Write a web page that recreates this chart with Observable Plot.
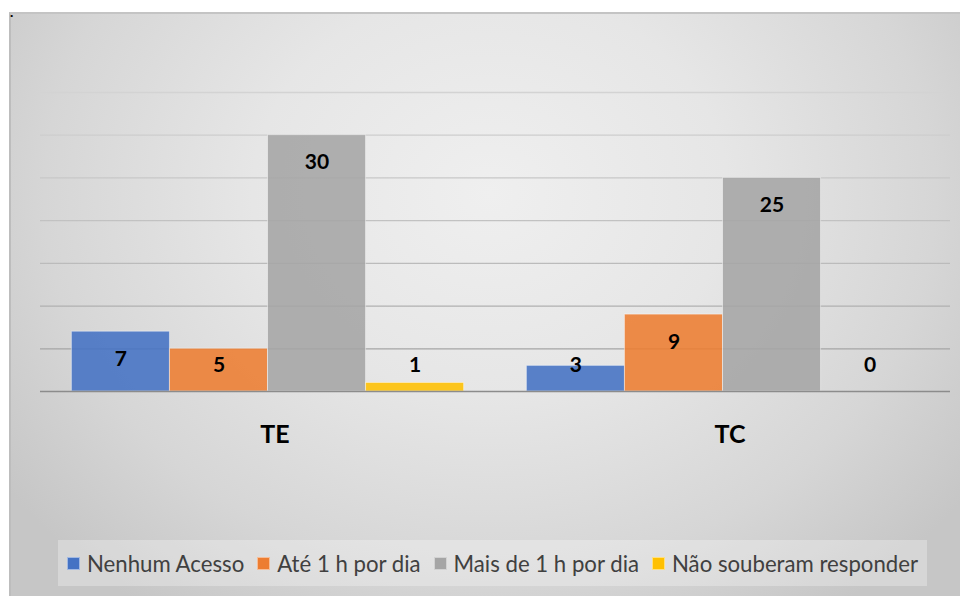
<!DOCTYPE html>
<html>
<head>
<meta charset="utf-8">
<script src="https://cdn.jsdelivr.net/npm/d3@7"></script>
<script src="https://cdn.jsdelivr.net/npm/@observablehq/plot@0.6"></script>
<style>
  html, body { margin: 0; padding: 0; background: #ffffff; width: 960px; height: 596px; overflow: hidden; }
  body { position: relative; font-family: Lato, "Noto Sans", sans-serif; }
  #bg {
    position: absolute; left: 9px; top: 12px; width: 960px; height: 600px;
    border-top: 2px solid #c4c4c4; border-left: 2px solid #bdbdbd; box-sizing: border-box;
    background: radial-gradient(ellipse 62% 85% at 50% 30%, #efefef 0%, #e6e6e6 40%, #d6d6d6 75%, #c6c6c6 100%);
  }
  #dot { position: absolute; left: 10px; top: 5px; font-size: 14px; line-height: 14px; font-weight: bold; color: #000; }
  #chart { position: absolute; left: 0; top: 0; }
  #legend {
    position: absolute; left: 58px; top: 540px; width: 869px; height: 46px;
    background: rgba(255,255,255,0.28);
    display: flex; align-items: center; justify-content: center;
    font-size: 22.2px; color: #404040;
  }
  .item { display: flex; align-items: center; margin: 0 6.5px; white-space: nowrap; }
  .sw { width: 13px; height: 13px; margin-right: 7px; box-sizing: border-box; border: 1px solid rgba(255,255,255,0.5); }
</style>
</head>
<body>
<div id="bg"></div>
<div id="dot">.</div>
<div id="chart"></div>
<div id="legend"></div>
<script>
const groups = ["TE", "TC"];
const series = ["Nenhum Acesso", "Até 1 h por dia", "Mais de 1 h por dia", "Não souberam responder"];
const teValues = [7, 5, 30, 1];
const tcValues = [3, 9, 25, 0];
const yTicks = [5, 10, 15, 20, 25, 30, 35];
const colors = ["#4472C4", "#ED7D31", "#A5A5A5", "#FFC000"];

const data = [
  ...series.map((s, i) => ({group: "TE", series: s, value: teValues[i]})),
  ...series.map((s, i) => ({group: "TC", series: s, value: tcValues[i]}))
];

const plot = Plot.plot({
  width: 960,
  height: 470,
  marginLeft: 40,
  marginRight: 10,
  marginTop: 92,
  marginBottom: 79,
  style: {background: "transparent", fontFamily: "Lato, 'Noto Sans', sans-serif", overflow: "visible"},
  fx: {domain: groups, padding: 0, axis: null},
  x: {domain: series, paddingInner: 0, paddingOuter: 0.32, round: false, axis: null},
  y: {domain: [0, 35], axis: null},
  color: {domain: series, range: colors},
  marks: [
    Plot.ruleY(yTicks, {stroke: "url(#gridGrad)", strokeWidth: 1.3}),
    Plot.barY(data.filter(d => d.value > 0), {
      fx: "group", x: "series", y: "value", fill: "series",
      fillOpacity: 0.88, stroke: "#ffffff", strokeOpacity: 0.45, strokeWidth: 1
    }),
    Plot.ruleY([0], {stroke: "#8c8c8c", strokeWidth: 1.5}),
    Plot.text(data, {
      fx: "group", x: "series",
      y: d => Math.max(d.value - 3.22, 3.1),
      text: d => String(d.value),
      fontSize: 21, fontWeight: "bold", fill: "#000000"
    }),
    Plot.text(groups, {
      fx: d => d, text: d => d,
      frameAnchor: "bottom", lineAnchor: "top", dy: 34, dx: 7,
      fontSize: 25, fontWeight: "bold", fill: "#000000"
    })
  ]
});

// vertical gradient for gridlines (lighter at top, darker near the baseline)
const ns = "http://www.w3.org/2000/svg";
const defs = document.createElementNS(ns, "defs");
const grad = document.createElementNS(ns, "linearGradient");
grad.setAttribute("id", "gridGrad");
grad.setAttribute("gradientUnits", "userSpaceOnUse");
grad.setAttribute("x1", "0"); grad.setAttribute("y1", "92");
grad.setAttribute("x2", "0"); grad.setAttribute("y2", "391");
[[0, "#d3d3d3"], [0.55, "#bdbdbd"], [1, "#9a9a9a"]].forEach(([o, c]) => {
  const st = document.createElementNS(ns, "stop");
  st.setAttribute("offset", o);
  st.setAttribute("stop-color", c);
  grad.appendChild(st);
});
defs.appendChild(grad);
plot.insertBefore(defs, plot.firstChild);

document.getElementById("chart").appendChild(plot);

const legend = document.getElementById("legend");
series.forEach((s, i) => {
  const item = document.createElement("div");
  item.className = "item";
  const sw = document.createElement("span");
  sw.className = "sw";
  sw.style.background = colors[i];
  const t = document.createElement("span");
  t.textContent = s;
  item.appendChild(sw);
  item.appendChild(t);
  legend.appendChild(item);
});
</script>
</body>
</html>
